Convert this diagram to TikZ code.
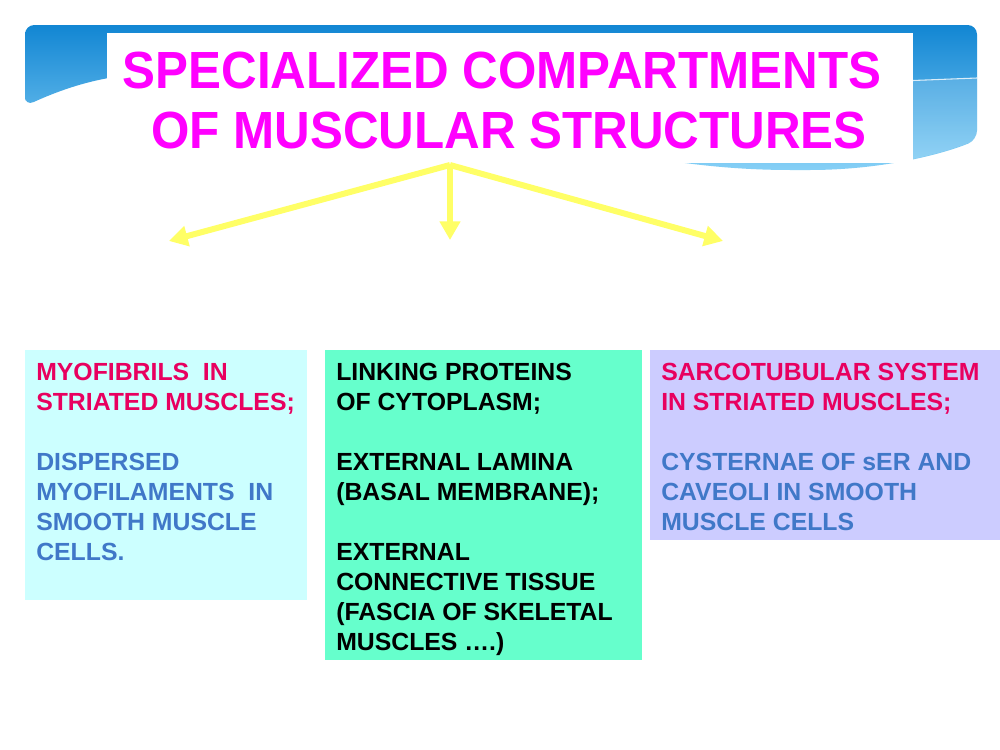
\documentclass[tikz,border=0pt]{standalone}
\usepackage{fontspec}
\setmainfont{Liberation Sans}
\usetikzlibrary{arrows.meta}
\definecolor{bannerTop}{HTML}{1286D3}
\definecolor{bannerBot}{HTML}{86D0F6}
\definecolor{titleMag}{HTML}{FF00FF}
\definecolor{arrowYel}{HTML}{FFFF66}
\definecolor{boxCyan}{HTML}{CCFFFF}
\definecolor{boxGreen}{HTML}{66FFCC}
\definecolor{boxLav}{HTML}{CCCCFF}
\definecolor{txtRed}{HTML}{E8005F}
\definecolor{txtBlue}{HTML}{4078C8}
\newcommand{\mybannerpath}{(25,106) -- (25,25) -- (977,25) -- (977,140) .. controls (940,155) and (880,170) .. (800,170) .. controls (550,170) and (400,60) .. (130,75) .. controls (90,80) and (60,90) .. (25,106) -- cycle}
\begin{document}
\begin{tikzpicture}[x=0.75pt,y=-0.75pt,
  panel/.style={draw=none, inner sep=0pt, anchor=north west},
  bodytext/.style={inner sep=0pt, anchor=north west, align=left, font=\bfseries\fontsize{18.6}{22.5}\selectfont},
  titletext/.style={inner sep=0pt, anchor=base, text=titleMag, font=\bfseries\fontsize{37}{44}\selectfont},
  yarrow/.style={draw=arrowYel, line width=4.5pt, -{Triangle[length=14pt,width=15pt]}}
]
\useasboundingbox (0,0) rectangle (1000,750);
\fill[white] (0,0) rectangle (1000,750);

% banner
\shade[top color=bannerTop, bottom color=bannerBot, rounded corners=7pt] \mybannerpath;
\begin{scope}
  \clip \mybannerpath;
  \fill[white, opacity=0.15] (900,81) -- (977,78) -- (990,78) -- (990,190) -- (900,190) -- cycle;
  \draw[white, line width=0.8pt, opacity=0.8] (900,81) -- (977,78);
\end{scope}

% title box
\node[panel, fill=white, minimum width=604.5pt, minimum height=97.5pt] (titlebox) at (107,33) {};
\node[titletext] (title1) at (502,88) {\scalebox{1}[1.06]{SPECIALIZED COMPARTMENTS}};
\node[titletext] (title2) at (509,148) {\scalebox{1}[1.06]{OF MUSCULAR STRUCTURES}};

% arrows
\coordinate (src) at (450,165);
\coordinate (tL) at (169,241);
\coordinate (tM) at (450,240);
\coordinate (tR) at (723,241);
\draw[yarrow] (src) -- (tL);
\draw[yarrow] (src) -- (tM);
\draw[yarrow] (src) -- (tR);

% boxes
\node[panel, fill=boxCyan, minimum width=211.5pt, minimum height=187.5pt] (lbox) at (25,350) {};
\node[panel, fill=boxGreen, minimum width=237.75pt, minimum height=232.5pt] (mbox) at (325,350) {};
\node[panel, fill=boxLav, minimum width=262.5pt, minimum height=142.5pt] (rbox) at (650,350) {};

\node[bodytext] (ltext) at (36,363) {%
  \textcolor{txtRed}{MYOFIBRILS\ \ IN}\\
  \textcolor{txtRed}{STRIATED MUSCLES;}\\[22.5pt]
  \textcolor{txtBlue}{DISPERSED}\\
  \textcolor{txtBlue}{MYOFILAMENTS\ \ IN}\\
  \textcolor{txtBlue}{SMOOTH MUSCLE}\\
  \textcolor{txtBlue}{CELLS.}};

\node[bodytext] (mtext) at (336,363) {%
  LINKING PROTEINS\\
  OF CYTOPLASM;\\[22.5pt]
  EXTERNAL LAMINA\\
  (BASAL MEMBRANE);\\[22.5pt]
  EXTERNAL\\
  CONNECTIVE TISSUE\\
  (FASCIA OF SKELETAL\\
  MUSCLES ….)};

\node[bodytext] (rtext) at (661,363) {%
  \textcolor{txtRed}{SARCOTUBULAR SYSTEM}\\
  \textcolor{txtRed}{IN STRIATED MUSCLES;}\\[22.5pt]
  \textcolor{txtBlue}{CYSTERNAE OF sER AND}\\
  \textcolor{txtBlue}{CAVEOLI IN SMOOTH}\\
  \textcolor{txtBlue}{MUSCLE CELLS}};
\end{tikzpicture}
\end{document}
